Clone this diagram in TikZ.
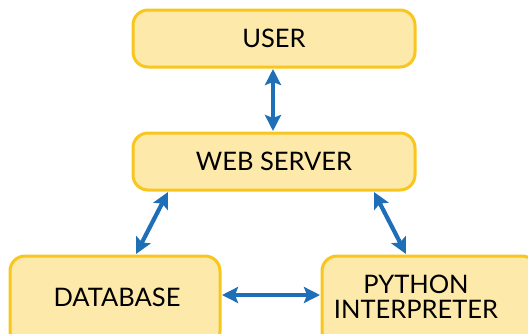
\documentclass[tikz,border=0pt]{standalone}
\usepackage{fontspec}
\setmainfont{Lato}
\usetikzlibrary{arrows.meta}
\definecolor{boxfill}{HTML}{FDE9A9}
\definecolor{boxline}{HTML}{F8C61C}
\definecolor{arrowblue}{HTML}{1E6FB7}
\tikzset{
  box/.style={draw=boxline, fill=boxfill, line width=3pt, rounded corners=15pt, inner sep=0pt, font=\fontsize{25.5}{28}\selectfont, align=center},
  lbl/.style={font=\fontsize{25.5}{28}\selectfont, align=center},
  link/.style={draw=arrowblue, line width=4.2pt, {Stealth[length=16pt,width=16pt,inset=3pt]}-{Stealth[length=16pt,width=16pt,inset=3pt]}}
}
\begin{document}
\begin{tikzpicture}[x=1pt,y=-1pt]
\useasboundingbox (0,0) rectangle (528,333);
\clip (0,0) rectangle (528,333);
\node[box, minimum width=282pt, minimum height=57pt] (user) at (274,38.5) {USER};
\node[box, minimum width=282pt, minimum height=57pt] (web) at (274,161.5) {WEB SERVER};
\node[box, minimum width=210pt, minimum height=90pt] (db) at (115,301) {};
\node[box, minimum width=215pt, minimum height=90pt] (py) at (429.5,301) {};
\node[lbl] (dbt) at (117,297) {DATABASE};
\node[lbl] (pyt) at (416,297) {PYTHON\\[-3pt]INTERPRETER};
\coordinate (a1) at (273,69);
\coordinate (a2) at (273,131);
\coordinate (b1) at (168,192);
\coordinate (b2) at (136,254);
\coordinate (c1) at (374,192);
\coordinate (c2) at (406,254);
\coordinate (d1) at (222,295);
\coordinate (d2) at (320,295);
\draw[link] (a1) -- (a2);
\draw[link] (b1) -- (b2);
\draw[link] (c1) -- (c2);
\draw[link] (d1) -- (d2);
\end{tikzpicture}
\end{document}
